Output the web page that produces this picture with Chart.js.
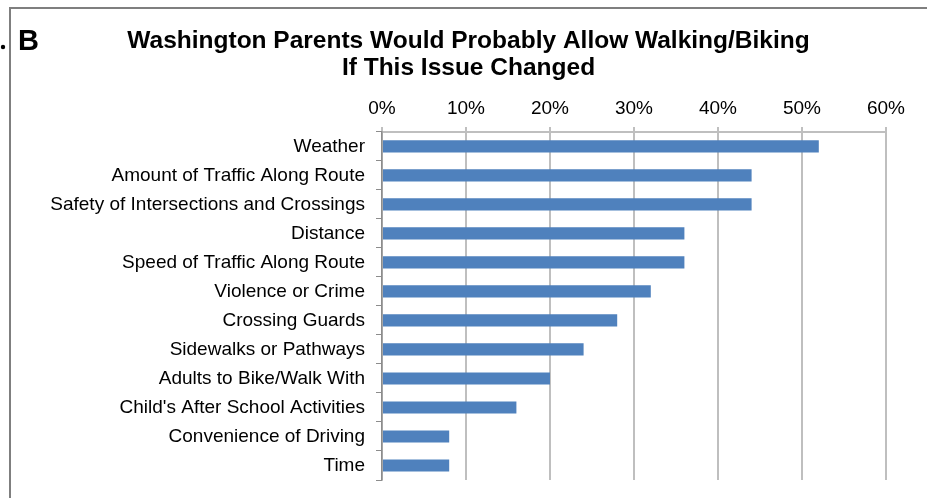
<!DOCTYPE html>
<html>
<head>
<meta charset="utf-8">
<script src="https://cdn.jsdelivr.net/npm/chart.js@4/dist/chart.umd.min.js"></script>
<style>
html,body{margin:0;padding:0;background:#fff;}
#wrap{width:927px;height:498px;position:relative;}
</style>
</head>
<body>
<div id="wrap"><canvas id="c"></canvas></div>
<script>
const categories = [
  "Weather",
  "Amount of Traffic Along Route",
  "Safety of Intersections and Crossings",
  "Distance",
  "Speed of Traffic Along Route",
  "Violence or Crime",
  "Crossing Guards",
  "Sidewalks or Pathways",
  "Adults to Bike/Walk With",
  "Child's After School Activities",
  "Convenience of Driving",
  "Time"
];
const values = [52, 44, 44, 36, 36, 32, 28, 24, 20, 16, 8, 8];
const titleLines = ["Washington Parents Would Probably Allow Walking/Biking", "If This Issue Changed"];
const panelLabel = "B";

const framePlugin = {
  id: 'frame',
  afterLayout(chart) {
    const t = chart.titleBlock;
    if (t) { t.left = 10; t.right = 927; t.width = 917; }
  },
  beforeDraw(chart) {
    const ctx = chart.ctx;
    ctx.save();
    ctx.fillStyle = '#fff';
    ctx.fillRect(0, 0, chart.width, chart.height);
    ctx.strokeStyle = '#7f7f7f';
    ctx.lineWidth = 2;
    ctx.beginPath();
    ctx.moveTo(10, 498);
    ctx.lineTo(10, 8);
    ctx.lineTo(927, 8);
    ctx.stroke();
    ctx.fillStyle = '#000';
    ctx.beginPath();
    ctx.arc(3, 47, 2.2, 0, Math.PI * 2);
    ctx.fill();
    ctx.font = 'bold 29px Arial, "Liberation Sans", sans-serif';
    ctx.textBaseline = 'alphabetic';
    ctx.textAlign = 'left';
    ctx.fillText(panelLabel, 18, 50);
    ctx.restore();
  }
};

new Chart(document.getElementById('c'), {
  type: 'bar',
  data: {
    labels: categories,
    datasets: [{
      data: values,
      backgroundColor: '#4f81bd',
      borderWidth: 0,
      barPercentage: 0.42,
      categoryPercentage: 1.0
    }]
  },
  options: {
    indexAxis: 'y',
    responsive: true,
    maintainAspectRatio: false,
    animation: false,
    layout: { padding: { top: 8, left: 10, right: 41, bottom: 18 } },
    plugins: {
      legend: { display: false },
      tooltip: { enabled: false },
      title: {
        display: true,
        text: titleLines,
        color: '#000',
        font: { family: 'Arial, "Liberation Sans", sans-serif', size: 24.5, weight: 'bold', lineHeight: 1.1 },
        padding: { top: 19.5, bottom: 8.7 }
      }
    },
    scales: {
      x: {
        position: 'top',
        min: 0,
        max: 60,
        ticks: {
          stepSize: 10,
          callback: v => v + '%',
          color: '#000',
          padding: 7,
          font: { family: 'Arial, "Liberation Sans", sans-serif', size: 19 }
        },
        grid: { color: '#bfbfbf', lineWidth: 2, tickLength: 5, drawTicks: true },
        border: { color: '#bfbfbf', width: 2 }
      },
      y: {
        afterFit(scale) { scale.width = 372; scale.paddingTop = 0; scale.paddingBottom = 0; },
        ticks: {
          color: '#000',
          padding: 11,
          autoSkip: false,
          font: { family: 'Arial, "Liberation Sans", sans-serif', size: 19 }
        },
        grid: { offset: true, drawOnChartArea: false, drawTicks: true, tickLength: 6, color: '#8c8c8c', lineWidth: 1 },
        border: { color: '#8c8c8c', width: 1.5 }
      }
    }
  },
  plugins: [framePlugin]
});
</script>
</body>
</html>
